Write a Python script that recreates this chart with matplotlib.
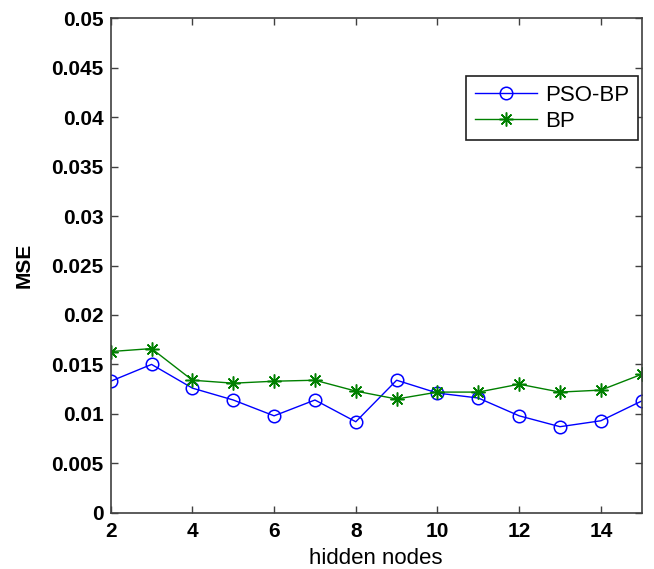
import matplotlib.pyplot as plt

hidden_nodes = [2, 3, 4, 5, 6, 7, 8, 9, 10, 11, 12, 13, 14, 15]
mse_pso_bp = [0.0133, 0.0150, 0.0126, 0.0114, 0.0098, 0.0114, 0.0092, 0.0134,
              0.0121, 0.0116, 0.0098, 0.0087, 0.0093, 0.0113]
mse_bp = [0.0163, 0.0166, 0.0134, 0.0131, 0.0133, 0.0134, 0.0123, 0.0115,
          0.0122, 0.0122, 0.0130, 0.0122, 0.0124, 0.0140]

x_ticks = [2, 4, 6, 8, 10, 12, 14]
y_ticks = [0, 0.005, 0.01, 0.015, 0.02, 0.025, 0.03, 0.035, 0.04, 0.045, 0.05]
y_labels = ["0", "0.005", "0.01", "0.015", "0.02", "0.025", "0.03",
            "0.035", "0.04", "0.045", "0.05"]

plt.rcParams['font.family'] = ['Liberation Sans', 'DejaVu Sans']

fig = plt.figure(figsize=(6.54, 5.69), dpi=100)
ax = fig.add_axes([0.1693, 0.0989, 0.8119, 0.8689])

# matlab-like markers: open circles and asterisks
ax.plot(hidden_nodes, mse_pso_bp, color='#0000ff', lw=1.0, marker='o', ms=9,
        mfc='none', mec='#0000ff', mew=1.1, label='PSO-BP')
ax.plot(hidden_nodes, mse_bp, color='#008000', lw=1.0, marker=(8, 2, 0), ms=10,
        mfc='#008000', mec='#008000', mew=1.1, label='BP')

ax.set_xlim(2, 15)
ax.set_ylim(0, 0.05)
ax.set_xticks(x_ticks)
ax.set_yticks(y_ticks)
ax.set_yticklabels(y_labels)
ax.tick_params(direction='in', top=True, right=True, length=5, width=1,
               color='#404040', labelsize=15)
ax.tick_params(axis='x', pad=7)
ax.tick_params(axis='y', pad=5)
for lbl in ax.get_xticklabels() + ax.get_yticklabels():
    lbl.set_fontweight('bold')
for sp in ax.spines.values():
    sp.set_color('#404040')
    sp.set_linewidth(1.2)

ax.set_xlabel('hidden nodes', fontsize=16, labelpad=5)
ax.set_ylabel('MSE', fontsize=15, fontweight='bold', labelpad=13)

leg = ax.legend(loc='upper right', bbox_to_anchor=(0.993, 0.883), fontsize=16,
                fancybox=False, edgecolor='#202020', framealpha=1,
                handlelength=2.8, borderpad=0.4, labelspacing=0.2,
                handletextpad=0.35, borderaxespad=0)
leg.get_frame().set_linewidth(1.2)

fig.savefig('out.png', dpi=100)
